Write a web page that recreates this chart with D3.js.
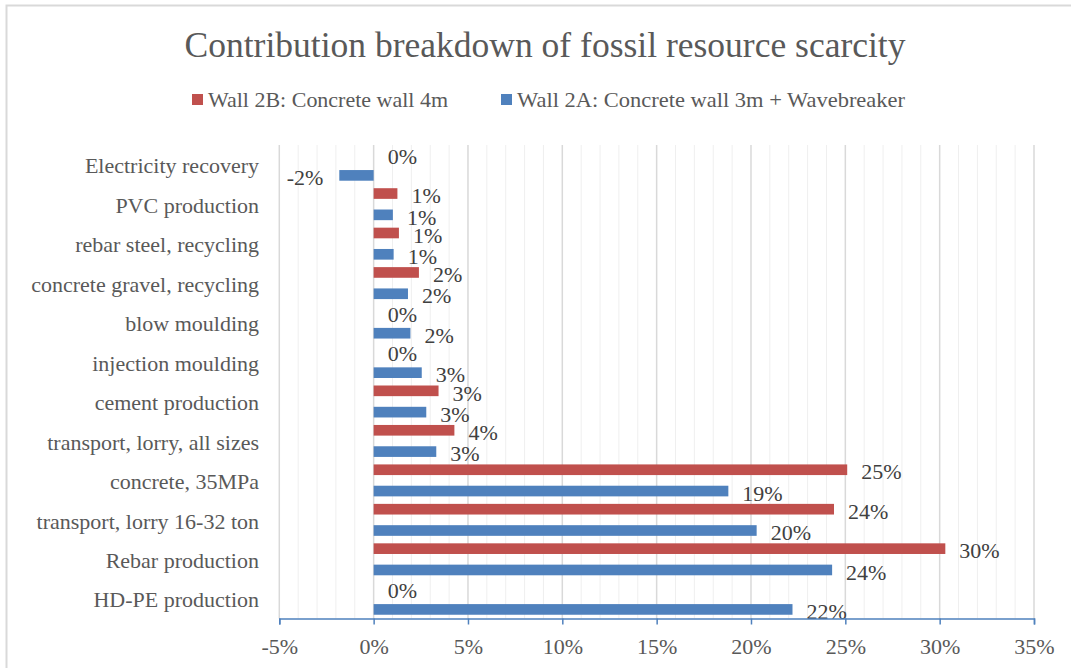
<!DOCTYPE html>
<html>
<head>
<meta charset="utf-8">
<script src="https://cdn.jsdelivr.net/npm/d3@7"></script>
<style>
  html, body { margin: 0; padding: 0; background: #fff; }
  svg { display: block; }
  text { font-family: "Liberation Serif", "DejaVu Serif", serif; }
</style>
</head>
<body>
<svg id="chart" width="1071" height="668"></svg>
<script>
// Process contributions, listed top to bottom
const categories = [
  "Electricity recovery",
  "PVC production",
  "rebar steel, recycling",
  "concrete gravel, recycling",
  "blow moulding",
  "injection moulding",
  "cement production",
  "transport, lorry, all sizes",
  "concrete, 35MPa",
  "transport, lorry 16-32 ton",
  "Rebar production",
  "HD-PE production"
];

// Share of fossil resource scarcity, in percent
const wall2B = [0, 1.26, 1.34, 2.4, 0, 0, 3.44, 4.28, 25.1, 24.4, 30.3, 0];
const wall2A = [-1.82, 1.02, 1.06, 1.82, 1.95, 2.55, 2.79, 3.32, 18.8, 20.3, 24.3, 22.2];

const seriesNames = ["Wall 2B: Concrete wall 4m", "Wall 2A: Concrete wall 3m + Wavebreaker"];
const seriesColors = ["#C0504D", "#4F81BD"];

const xTicks = [-5, 0, 5, 10, 15, 20, 25, 30, 35];
const xMinor = d3.range(-5, 36, 1).filter(v => v % 5 !== 0);

const svg = d3.select("#chart");
const textGray = "#595959";

// chart frame
svg.append("rect")
  .attr("x", 6.5).attr("y", 5.5)
  .attr("width", 1080).attr("height", 680)
  .attr("fill", "#fff")
  .attr("stroke", "#D9D9D9").attr("stroke-width", 2);

const x = d3.scaleLinear().domain([-5, 35]).range([279.3, 1034]);
const y = d3.scaleBand().domain(categories).range([145, 618.5]);
const bw = y.bandwidth();
const barH = bw * 0.27;

// gridlines
const grid = svg.append("g");
grid.selectAll("line.minor").data(xMinor).join("line")
  .attr("class", "minor")
  .attr("x1", d => x(d)).attr("x2", d => x(d))
  .attr("y1", 145).attr("y2", 618.5)
  .attr("stroke", "#EFEFEF").attr("stroke-width", 1);
grid.selectAll("line.major").data(xTicks).join("line")
  .attr("class", "major")
  .attr("x1", d => x(d)).attr("x2", d => x(d))
  .attr("y1", 145).attr("y2", 618.5)
  .attr("stroke", "#D9D9D9").attr("stroke-width", 1.5);

// bars: 2B above, 2A below in each category
const series = [wall2B, wall2A];
const offsets = [-barH, barH];
series.forEach((vals, si) => {
  const g = svg.append("g");
  const rows = categories.map((c, i) => ({ c, v: vals[i] }));
  const cy = d => y(d.c) + bw / 2 + offsets[si];
  g.selectAll("rect").data(rows).join("rect")
    .attr("x", d => x(Math.min(0, d.v)))
    .attr("width", d => Math.abs(x(d.v) - x(0)))
    .attr("y", d => cy(d) - barH / 2)
    .attr("height", barH)
    .attr("fill", seriesColors[si]);
  g.selectAll("text").data(rows).join("text")
    .attr("x", d => d.v < 0 ? x(d.v) - 16 : x(d.v) + 14)
    .attr("y", d => cy(d) + 2)
    .attr("dy", "0.35em")
    .attr("text-anchor", d => d.v < 0 ? "end" : "start")
    .attr("fill", "#404040")
    .attr("font-size", 22)
    .text(d => Math.round(d.v) + "%");
});

// category labels
svg.append("g").selectAll("text").data(categories).join("text")
  .attr("x", 259)
  .attr("y", d => y(d) + bw / 2 + 1)
  .attr("dy", "0.35em")
  .attr("text-anchor", "end")
  .attr("fill", textGray)
  .attr("font-size", 22)
  .text(d => d);

// bottom axis
const axis = svg.append("g")
  .attr("transform", "translate(0,618.5)")
  .call(d3.axisBottom(x).tickValues(xTicks).tickSize(6).tickPadding(13.5)
    .tickFormat(d => d + "%"));
axis.select(".domain").attr("stroke", "#4F81BD").attr("stroke-width", 1.5);
axis.selectAll(".tick line").attr("stroke", "#4F81BD").attr("stroke-width", 1.5);
axis.selectAll(".tick text")
  .attr("fill", textGray)
  .attr("font-size", 22)
  .attr("font-family", "Liberation Serif, serif");

// title
svg.append("text")
  .attr("x", 545).attr("y", 57)
  .attr("text-anchor", "middle")
  .attr("fill", textGray)
  .attr("font-size", 35)
  .attr("textLength", 721).attr("lengthAdjust", "spacingAndGlyphs")
  .text("Contribution breakdown of fossil resource scarcity");

// legend
const legendItems = [
  { name: seriesNames[0], color: seriesColors[0], sx: 192, tx: 208, tw: 240 },
  { name: seriesNames[1], color: seriesColors[1], sx: 501, tx: 517, tw: 388 }
];
const lg = svg.append("g");
legendItems.forEach(it => {
  lg.append("rect")
    .attr("x", it.sx).attr("y", 94)
    .attr("width", 11).attr("height", 11)
    .attr("fill", it.color);
  lg.append("text")
    .attr("x", it.tx).attr("y", 100)
    .attr("dy", "0.35em")
    .attr("fill", textGray)
    .attr("font-size", 21)
    .attr("textLength", it.tw).attr("lengthAdjust", "spacingAndGlyphs")
    .text(it.name);
});
</script>
</body>
</html>
